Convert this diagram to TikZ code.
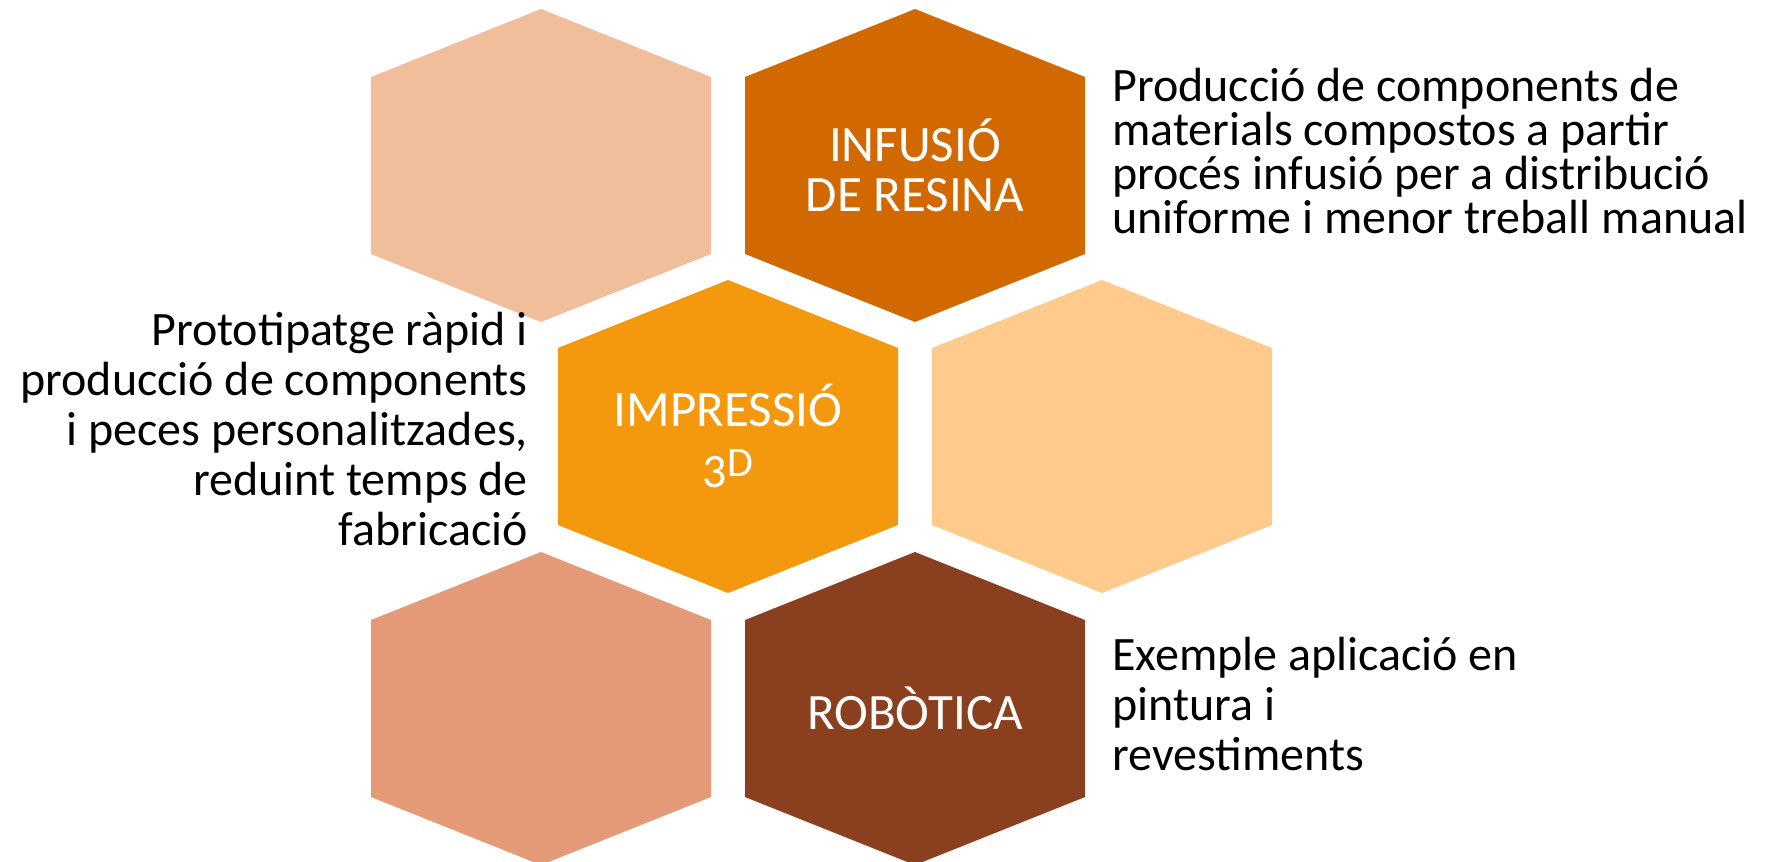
\documentclass[tikz,border=0pt]{standalone}
\usepackage{fontspec}
\setmainfont{Carlito}
\usetikzlibrary{positioning}

\definecolor{peach}{HTML}{F0BE9A}
\definecolor{rust}{HTML}{D16900}
\definecolor{amber}{HTML}{F4990E}
\definecolor{sand}{HTML}{FECB8C}
\definecolor{salmon}{HTML}{E59A77}
\definecolor{umber}{HTML}{8A3F1E}

\begin{document}
\begin{tikzpicture}[x=1pt, y=-1pt,
  cell/.style={font=\fontsize{51}{50}\selectfont, text=white, align=center, inner sep=0pt},
  blurb/.style={font=\fontsize{48}{44}\selectfont, inner sep=0pt}]
\useasboundingbox (0,0) rectangle (1775,862);

% honeycomb
\fill[peach]  (541,9)   -- ++(170,68) -- ++(0,177) -- ++(-170,68) -- ++(-170,-68) -- ++(0,-177) -- cycle;
\fill[rust]   (915,9)   -- ++(170,68) -- ++(0,177) -- ++(-170,68) -- ++(-170,-68) -- ++(0,-177) -- cycle;
\fill[amber]  (728,280) -- ++(170,68) -- ++(0,177) -- ++(-170,68) -- ++(-170,-68) -- ++(0,-177) -- cycle;
\fill[sand]   (1102,280) -- ++(170,68) -- ++(0,177) -- ++(-170,68) -- ++(-170,-68) -- ++(0,-177) -- cycle;
\fill[salmon] (541,552) -- ++(170,68) -- ++(0,177) -- ++(-170,68) -- ++(-170,-68) -- ++(0,-177) -- cycle;
\fill[umber]  (915,552) -- ++(170,68) -- ++(0,177) -- ++(-170,68) -- ++(-170,-68) -- ++(0,-177) -- cycle;

\node[cell] (infusio) at (915,165) {INFUSIÓ\\DE RESINA};
\node[cell] (impressio) at (728,436) {IMPRESSIÓ\\\raisebox{-11pt}{\fontsize{48}{48}\selectfont 3}{\fontsize{42}{42}\selectfont D}};
\node[cell] (robotica) at (915,708) {ROBÒTICA};

% descriptions
\node[blurb, align=left, anchor=north west] (infusiotext) at (1112,68)
  {Producció de components de\\materials compostos a partir\\procés infusió per a distribució\\uniforme i menor treball manual};
\node[blurb, align=right, anchor=north east, font=\fontsize{48}{50}\selectfont] (impressiotext) at (528,312)
  {Prototipatge ràpid i\\producció de components\\i peces personalitzades,\\reduint temps de\\fabricació};
\node[blurb, align=left, anchor=north west, font=\fontsize{48}{50}\selectfont] (roboticatext) at (1112,637)
  {Exemple aplicació en\\pintura i\\revestiments};
\end{tikzpicture}
\end{document}
